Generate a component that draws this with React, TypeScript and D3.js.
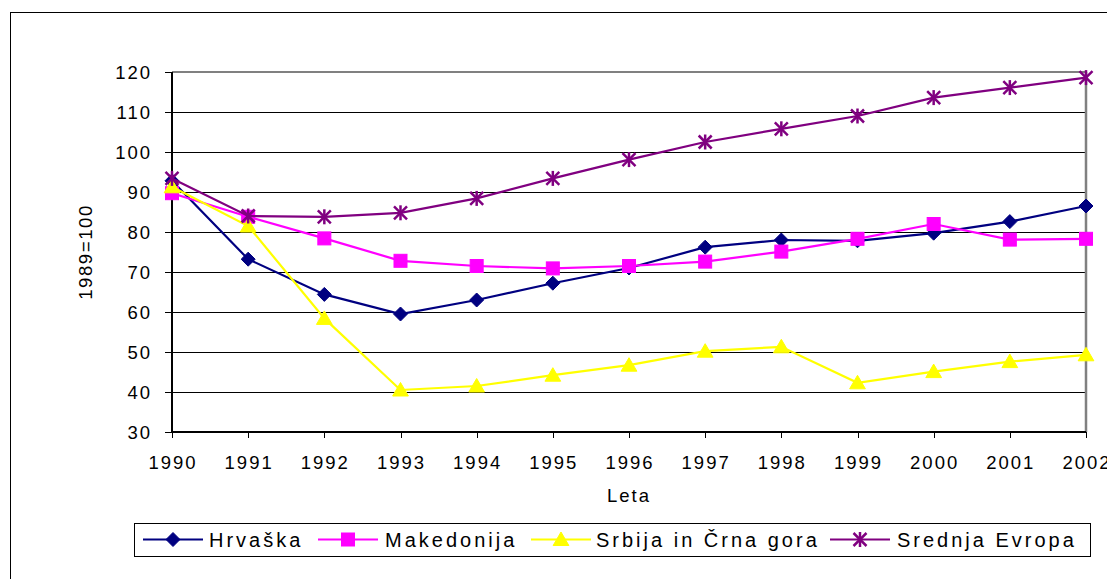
import React from "react";
import * as d3 from "d3";

const years = [1990, 1991, 1992, 1993, 1994, 1995, 1996, 1997, 1998, 1999, 2000, 2001, 2002];
const hrvaska = [92.8, 73.2, 64.4, 59.5, 63.0, 67.2, 71.0, 76.2, 78.0, 77.8, 79.7, 82.6, 86.5];
const makedonija = [89.7, 83.8, 78.4, 72.8, 71.5, 70.9, 71.5, 72.6, 75.1, 78.3, 82.0, 78.1, 78.3];
const srbija = [91.3, 81.5, 58.4, 40.5, 41.5, 44.2, 46.7, 50.2, 51.3, 42.3, 45.1, 47.6, 49.3];
const srednja = [93.4, 84.0, 83.8, 84.8, 88.4, 93.4, 98.1, 102.5, 105.8, 109.0, 113.6, 116.1, 118.6];
const yTicks = [30, 40, 50, 60, 70, 80, 90, 100, 110, 120];

const seriesNames = ["Hrvaška", "Makedonija", "Srbija in Črna gora", "Srednja Evropa"];
const seriesColors = ["#000080", "#FF00FF", "#FFFF00", "#800080"];
const seriesMarkers = ["diamond", "square", "triangle", "star"];
const seriesValues = [hrvaska, makedonija, srbija, srednja];

const W = 1107;
const H = 579;
const plot = { left: 172, right: 1086, top: 72, bottom: 432 };
const FONT = "'Liberation Sans', Arial, sans-serif";
const AX_FS = 18.5;
const AX_LS = 2;

function Marker({ type, color, x, y }: { type: string; color: string; x: number; y: number }) {
  if (type === "diamond") {
    const s = 7;
    return <path d={`M${x},${y - s}L${x + s},${y}L${x},${y + s}L${x - s},${y}Z`} fill={color} stroke={color} strokeWidth={1} />;
  }
  if (type === "square") {
    const s = 6.5;
    return <rect x={x - s} y={y - s} width={2 * s} height={2 * s} fill={color} stroke={color} strokeWidth={1} />;
  }
  if (type === "triangle") {
    const s = 7.5;
    return <path d={`M${x},${y - s}L${x + s * 1.05},${y + s * 0.8}L${x - s * 1.05},${y + s * 0.8}Z`} fill={color} stroke={color} strokeWidth={1} />;
  }
  const s = 6.5;
  return (
    <g stroke={color} strokeWidth={2.5} strokeLinecap="butt">
      <line x1={x - s} y1={y - s} x2={x + s} y2={y + s} />
      <line x1={x - s} y1={y + s} x2={x + s} y2={y - s} />
      <line x1={x} y1={y - s - 1} x2={x} y2={y + s + 1} />
    </g>
  );
}

export default function App() {
  const x = d3.scaleLinear().domain([years[0], years[years.length - 1]]).range([plot.left, plot.right]);
  const y = d3.scaleLinear().domain([30, 120]).range([plot.bottom, plot.top]);
  const line = d3
    .line<number>()
    .x((_, i) => x(years[i]))
    .y((v) => y(v));

  const legendY = 539.5;
  const legendItems = [
    { lineX: 143, textX: 209 },
    { lineX: 318, textX: 385 },
    { lineX: 531, textX: 596 },
    { lineX: 830, textX: 897 },
  ];

  return (
    <svg width={W} height={H} style={{ position: "absolute", left: 0, top: 0, background: "#fff" }} fontFamily={FONT}>
      <rect x={10.5} y={12.5} width={1300} height={700} fill="#fff" stroke="#000" strokeWidth={1} />
      {/* gridlines */}
      {yTicks.map((t) => (
        <line key={"g" + t} x1={plot.left} x2={plot.right} y1={y(t) + 0.5} y2={y(t) + 0.5} stroke="#000" strokeWidth={1} />
      ))}
      {/* plot border top/right gray */}
      <line x1={plot.left} x2={plot.right} y1={plot.top} y2={plot.top} stroke="#808080" strokeWidth={2} />
      <line x1={plot.right} x2={plot.right} y1={plot.top} y2={plot.bottom} stroke="#808080" strokeWidth={2.5} />
      {/* axes */}
      <line x1={plot.left} x2={plot.left} y1={plot.top} y2={plot.bottom} stroke="#000" strokeWidth={2} />
      <line x1={plot.left} x2={plot.right} y1={plot.bottom} y2={plot.bottom} stroke="#000" strokeWidth={2} />
      {yTicks.map((t) => (
        <g key={"yt" + t}>
          <line x1={plot.left - 7} x2={plot.left} y1={y(t) + 0.5} y2={y(t) + 0.5} stroke="#000" strokeWidth={1} />
          <text x={152} y={y(t) + 7} textAnchor="end" fontSize={AX_FS} letterSpacing={AX_LS} fill="#000">
            {t}
          </text>
        </g>
      ))}
      {years.map((yr) => (
        <g key={"xt" + yr}>
          <line x1={Math.round(x(yr)) + 0.5} x2={Math.round(x(yr)) + 0.5} y1={plot.bottom} y2={plot.bottom + 6} stroke="#000" strokeWidth={1} />
          <text x={x(yr) + AX_LS / 2} y={468.5} textAnchor="middle" fontSize={AX_FS} letterSpacing={AX_LS} fill="#000">
            {yr}
          </text>
        </g>
      ))}
      <text x={629} y={501.5} textAnchor="middle" fontSize={AX_FS} letterSpacing={AX_LS} fill="#000">
        Leta
      </text>
      <text
        transform={`translate(92,${(plot.top + plot.bottom) / 2}) rotate(-90)`}
        textAnchor="middle"
        fontSize={AX_FS}
        letterSpacing={1.6}
        fill="#000"
      >
        1989=100
      </text>
      {/* series */}
      {seriesValues.map((vals, si) => (
        <g key={"s" + si}>
          <path d={line(vals) || ""} fill="none" stroke={seriesColors[si]} strokeWidth={2.2} />
          {vals.map((v, i) => (
            <Marker key={i} type={seriesMarkers[si]} color={seriesColors[si]} x={x(years[i])} y={y(v)} />
          ))}
        </g>
      ))}
      {/* legend */}
      <rect x={134.5} y={523.5} width={956} height={33} fill="#fff" stroke="#000" strokeWidth={1} />
      {seriesNames.map((n, i) => (
        <g key={"l" + i}>
          <line x1={legendItems[i].lineX} x2={legendItems[i].lineX + 60} y1={legendY} y2={legendY} stroke={seriesColors[i]} strokeWidth={2.2} />
          <Marker type={seriesMarkers[i]} color={seriesColors[i]} x={legendItems[i].lineX + 30} y={legendY} />
          <text x={legendItems[i].textX} y={547} fontSize={20} letterSpacing={3} fill="#000">
            {n}
          </text>
        </g>
      ))}
    </svg>
  );
}
